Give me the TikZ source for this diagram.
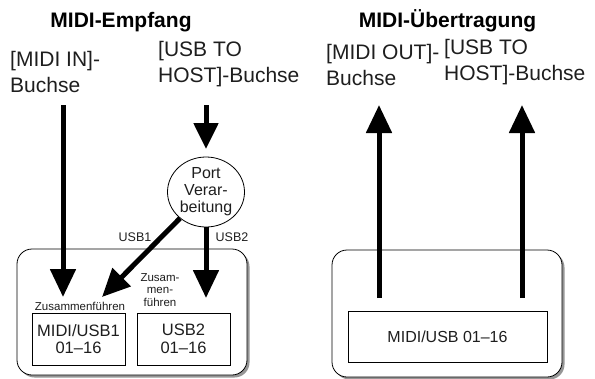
\documentclass[tikz,border=0pt]{standalone}
\usepackage{fontspec}
\setmainfont{Liberation Sans}
\usetikzlibrary{arrows.meta,positioning,shapes.geometric,shadows}
\definecolor{shadowgrey}{RGB}{150,150,150}
\definecolor{inkgrey}{RGB}{30,30,30}
\newcommand{\jackfont}{\fontsize{21}{26.5}\selectfont}
\newcommand{\portfont}{\fontsize{16}{17}\selectfont}
\newcommand{\tinyfont}{\fontsize{11.5}{12.5}\selectfont}

\begin{document}
\begin{tikzpicture}[x=1pt,y=-1pt,
  heading/.style={font=\jackfont\bfseries,anchor=base,inner sep=0pt},
  jacklabel/.style={font=\jackfont,align=left,anchor=north west,inner sep=0pt,text=inkgrey},
  flow/.style={line width=5pt,-{Triangle[length=28pt,width=25pt]}},
  panel/.style={draw,rounded corners=15pt,fill=white,line width=0.8pt,
    drop shadow={shadow xshift=2.5pt,shadow yshift=-2.5pt,fill=shadowgrey,opacity=1}},
  partbox/.style={draw,line width=0.8pt,align=center,inner sep=0pt,
    font=\fontsize{16.5}{17.5}\selectfont,text=inkgrey},
  note/.style={font=\tinyfont,align=center,inner sep=0pt,text=inkgrey}]
\useasboundingbox (0,0) rectangle (595,378);

% Empfang
\node[heading] (rxtitle) at (121,27) {MIDI-Empfang};
\node[jacklabel] (midiin) at (10,51) {[MIDI IN]-\\Buchse};
\node[jacklabel] (usbin) at (158,41) {[USB TO\\HOST]-Buchse};
\node[panel,minimum width=230pt,minimum height=126pt] (rxpanel) at (132,312) {};
\node[partbox,minimum width=93pt,minimum height=52pt] (rxbox1) at (78.5,339) {MIDI/USB1\\01--16};
\node[partbox,minimum width=93pt,minimum height=52pt] (rxbox2) at (183.5,339) {USB2\\01--16};
\node[note] (merge1) at (80,306) {Zusammenführen};
\node[note] (merge2) at (160,290) {Zusam-\\men-\\führen};
\node[draw,ellipse,line width=0.8pt,minimum width=77pt,minimum height=70pt,inner sep=0pt,
  align=center,font=\portfont,text=inkgrey] (port) at (206,192) {Port\\Verar-\\beitung};
\node[font=\fontsize{12.5}{14}\selectfont,text=inkgrey] (usb1lbl) at (135,237) {USB1};
\node[font=\fontsize{12.5}{14}\selectfont,text=inkgrey] (usb2lbl) at (232,237) {USB2};

\coordinate (inA) at (63,105);
\coordinate (inB) at (63,297);
\coordinate (hostA) at (206,105);
\coordinate (hostB) at (206,149);
\coordinate (tipU1) at (102,297);
\coordinate (tipU2) at (206,298);
\draw[flow] (inA) -- (inB);
\draw[flow,-{Triangle[length=26pt,width=24pt]}] (hostA) -- (hostB);
\draw[flow] (port) -- (tipU1);
\draw[flow] (port.south) -- (tipU2);

% Uebertragung
\node[heading] (txtitle) at (447.5,27) {MIDI-Übertragung};
\node[jacklabel] (midiout) at (326,44) {[MIDI OUT]-\\Buchse};
\node[jacklabel] (usbout) at (444,39) {[USB TO\\HOST]-Buchse};
\node[panel,minimum width=230pt,minimum height=127pt] (txpanel) at (447,313.5) {};
\node[partbox,minimum width=199pt,minimum height=51pt,font=\fontsize{16}{18}\selectfont] (txbox) at (447.5,336.5) {MIDI/USB 01--16};

\coordinate (outA) at (379,298);
\coordinate (outB) at (379,105);
\coordinate (hostC) at (522,298);
\coordinate (hostD) at (522,105);
\draw[flow] (outA) -- (outB);
\draw[flow] (hostC) -- (hostD);
\end{tikzpicture}
\end{document}
